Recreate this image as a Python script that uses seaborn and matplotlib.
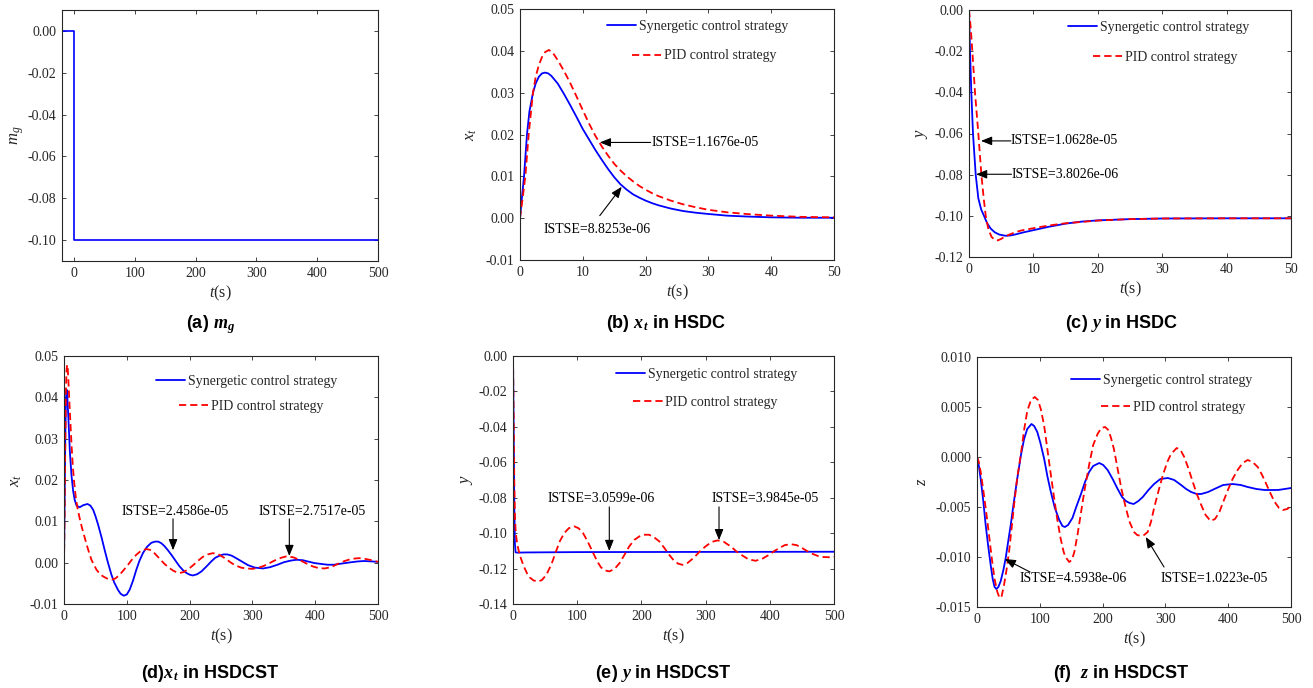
import matplotlib
matplotlib.use("Agg")
import matplotlib.pyplot as plt
import seaborn as sns
from matplotlib.legend import Legend
from matplotlib.ticker import FormatStrFormatter

# ---------------- data ----------------
LABEL_SYN = "Synergetic control strategy"
LABEL_PID = "PID control strategy"

# (a) disturbance m_g
a_t = [-20, 0, 0, 500]
a_mg = [0.0, 0.0, -0.10, -0.10]

# (b) x_t in HSDC
b_syn_t = [0, 0.3, 0.64, 1.11, 1.5, 2.07, 2.5, 3.0, 3.5, 4.0, 4.5, 5.0, 6, 7, 8, 9, 10, 11, 12, 13,
           14, 15, 16, 17, 18, 19, 20, 21, 22, 24, 26, 28, 30, 33, 36, 40, 45, 50]
b_syn_x = [0, 0.0048, 0.010, 0.020, 0.0255, 0.030, 0.0322, 0.0338, 0.0346, 0.0348, 0.0346, 0.0340,
           0.0322, 0.0297, 0.0270, 0.0242, 0.0213, 0.0188, 0.0163, 0.0140, 0.0118, 0.0098, 0.0081,
           0.0068, 0.0057, 0.0049, 0.0042, 0.0036, 0.0031, 0.0023, 0.0017, 0.0013, 0.0010, 0.0006,
           0.0004, 0.0002, 0.0001, 0.0001]
b_pid_t = [0, 0.4, 0.85, 1.38, 2.07, 2.5, 3.0, 3.5, 4.0, 4.6, 5.2, 6, 7, 8, 9, 10, 11, 12, 13, 14,
           15, 16, 17, 18, 19, 20, 21, 22, 24, 26, 28, 30, 33, 36, 40, 45, 50]
b_pid_x = [0, 0.0045, 0.010, 0.020, 0.030, 0.0338, 0.0366, 0.0385, 0.0397, 0.0402, 0.0396, 0.0378,
           0.0352, 0.0323, 0.0291, 0.0258, 0.0226, 0.0197, 0.0172, 0.0150, 0.0130, 0.0114, 0.0100,
           0.0088, 0.0077, 0.0068, 0.0060, 0.0053, 0.0042, 0.0033, 0.0026, 0.0020, 0.0014, 0.0010,
           0.0006, 0.0003, 0.0002]

# (c) y in HSDC
c_syn_t = [0, 0.08, 0.16, 0.36, 0.62, 1.04, 1.45, 1.9, 2.33, 2.8, 3.37, 4.0, 4.7, 5.7, 6.5, 7.25,
           8.5, 9.8, 12.4, 15, 17.5, 20, 25, 30, 40, 50]
c_syn_y = [0, -0.010, -0.020, -0.040, -0.060, -0.080, -0.0915, -0.097, -0.100, -0.1035, -0.1062,
           -0.1080, -0.1091, -0.1097, -0.1095, -0.1090, -0.1080, -0.1071, -0.1053, -0.1038, -0.1028,
           -0.1022, -0.1016, -0.1013, -0.1012, -0.1012]
c_pid_t = [0, 0.25, 0.52, 0.93, 1.45, 1.92, 2.3, 2.6, 3.0, 3.5, 4.0, 4.5, 5.0, 5.5, 6.2, 7, 8, 10,
           12.4, 15, 20, 25, 30, 40, 50]
c_pid_y = [0, -0.008, -0.020, -0.040, -0.060, -0.080, -0.092, -0.100, -0.1065, -0.1102, -0.1117,
           -0.1119, -0.1112, -0.1102, -0.1092, -0.1082, -0.1072, -0.1060, -0.1047, -0.1036, -0.1023,
           -0.1016, -0.1013, -0.1012, -0.1012]

# (d) x_t in HSDCST
d_syn_t = [0, 1, 2, 3, 4, 5, 7, 9.3, 12, 14.6, 17, 20, 25, 30.5, 37.4, 42, 46.4, 50, 54.3, 60, 65,
           70, 75.5, 80, 86, 90, 95, 100, 104.7, 110, 115, 120, 126, 132, 139, 145, 150, 155, 160,
           165, 171, 177, 184, 190, 195, 200, 205, 212, 219, 227, 234.5, 241, 248, 254, 260, 267,
           274, 283, 293, 304, 317, 328, 340, 350, 361, 370, 380, 388, 399, 409, 420, 430, 443,
           457, 468, 478, 490, 500]
d_syn_x = [0, 0.015, 0.030, 0.039, 0.0419, 0.041, 0.035, 0.027, 0.021, 0.0173, 0.0152, 0.0138,
           0.0134, 0.0139, 0.0142, 0.0138, 0.0128, 0.0113, 0.0092, 0.0060, 0.0029, 0.0, -0.0029,
           -0.0048, -0.0066, -0.0075, -0.0080, -0.0077, -0.0065, -0.0043, -0.0018, 0.0004, 0.0024,
           0.0038, 0.0048, 0.0051, 0.0051, 0.0047, 0.0040, 0.0031, 0.0019, 0.0006, -0.0009, -0.0019,
           -0.0025, -0.0029, -0.0031, -0.0028, -0.0021, -0.0009, 0.0003, 0.0012, 0.0017, 0.0020,
           0.0020, 0.0017, 0.0011, 0.0003, -0.0006, -0.0012, -0.0014, -0.0011, -0.0005, 0.0001,
           0.0005, 0.0007, 0.0006, 0.0003, -0.0001, -0.0003, -0.0005, -0.0005, -0.0002, 0.0001,
           0.0003, 0.0004, 0.0003, 0.0002]
d_pid_t = [0, 1, 2, 3, 4, 5, 6, 7.5, 9.3, 12, 14, 16, 19, 21.5, 25, 28, 32, 36, 40, 43.7, 48, 51.7,
           57, 62, 68, 72, 76.6, 82, 88.8, 95, 102, 108, 115, 122, 131, 137, 144, 152, 160, 167,
           173.5, 179, 184, 190, 197, 205, 213, 221, 229, 237, 245, 256, 264, 272, 282, 290, 300,
           310, 318, 325, 335, 346, 356, 367, 377, 386, 396, 405, 415, 425, 436, 445, 455, 463, 470,
           480, 490, 500]
d_pid_x = [0, 0.012, 0.028, 0.041, 0.0465, 0.0479, 0.0468, 0.0425, 0.0366, 0.0285, 0.0235, 0.0197,
           0.0155, 0.0132, 0.0107, 0.0088, 0.0066, 0.0044, 0.0024, 0.0007, -0.0006, -0.0017,
           -0.0027, -0.0033, -0.0038, -0.0040, -0.0041, -0.0038, -0.0029, -0.0018, -0.0005, 0.0007,
           0.0019, 0.0028, 0.0033, 0.0031, 0.0023, 0.0010, -0.0003, -0.0012, -0.0019, -0.0023,
           -0.0025, -0.0023, -0.0017, -0.0007, 0.0004, 0.0014, 0.0020, 0.0023, 0.0021, 0.0011,
           0.0002, -0.0006, -0.0012, -0.0014, -0.0015, -0.0012, -0.0008, -0.0003, 0.0005, 0.0012,
           0.0016, 0.0012, 0.0005, -0.0002, -0.0009, -0.0013, -0.0014, -0.0011, -0.0003, 0.0003,
           0.0008, 0.0010, 0.0011, 0.0009, 0.0006, 0.0002]

# (e) y in HSDCST
e_syn_t = [0, 1, 2, 3, 4, 6, 20, 100, 300, 500]
e_syn_y = [0, -0.040, -0.085, -0.106, -0.1108, -0.1110, -0.1109, -0.1107, -0.1106, -0.1105]
e_pid_t = [0, 1, 2, 3, 4, 5, 7, 10.4, 14, 18, 22, 26, 32, 39, 45, 52, 60, 67, 73, 80, 87, 95, 102,
           109, 116, 124, 131, 137, 143, 150, 158, 166, 174, 181, 189, 197, 204, 212, 220, 228, 236,
           243.5, 250, 257, 264, 272, 282, 291, 300.5, 310, 318.6, 328, 339, 348, 357.5, 367, 378,
           389, 399, 407, 414.5, 423, 432.6, 442, 450.8, 458, 466, 475, 484, 492, 500]
e_pid_y = [0, -0.035, -0.070, -0.090, -0.098, -0.102, -0.107, -0.1122, -0.1160, -0.1197, -0.1228,
           -0.1250, -0.1267, -0.1273, -0.1265, -0.1235, -0.1175, -0.1103, -0.1045, -0.0999, -0.0972,
           -0.0961, -0.0972, -0.0999, -0.1045, -0.1105, -0.1158, -0.1193, -0.1210, -0.1216, -0.1203,
           -0.1169, -0.1120, -0.1075, -0.1038, -0.1018, -0.1009, -0.1009, -0.1024, -0.1047, -0.1085,
           -0.1123, -0.1152, -0.1172, -0.1179, -0.1168, -0.1138, -0.1103, -0.1073, -0.1049, -0.1041,
           -0.1048, -0.1075, -0.1103, -0.1127, -0.1148, -0.1156, -0.1143, -0.1122, -0.1101, -0.1085,
           -0.1068, -0.1062, -0.1068, -0.1085, -0.1101, -0.1116, -0.1129, -0.1135, -0.1136, -0.1133]

# (f) z in HSDCST
f_syn_t = [0, 3, 5.9, 10, 13.8, 18, 21.8, 25, 28, 30.9, 34, 37.8, 42, 45.7, 50, 53.7, 58, 64, 70, 75,
           80, 86.7, 91, 96, 101, 107, 112, 117.6, 124, 131, 136, 140, 145, 152, 158, 165, 172,
           178.5, 185, 194.7, 201, 208, 216, 224, 231, 237, 243, 249.5, 257, 264, 273, 282, 292,
           304, 314, 325, 333, 341, 350, 357, 368, 378, 392, 407, 420, 431, 445, 458, 470, 479, 490,
           500]
f_syn_z = [0, -0.0009, -0.0022, -0.0044, -0.0068, -0.0090, -0.0108, -0.0122, -0.0130, -0.0132,
           -0.0130, -0.0124, -0.0113, -0.0101, -0.0083, -0.0068, -0.0048, -0.0022, 0.0002, 0.0018,
           0.0028, 0.0033, 0.0031, 0.0025, 0.0014, -0.0002, -0.0019, -0.0035, -0.0051, -0.0063,
           -0.0069, -0.0070, -0.0068, -0.0061, -0.0050, -0.0038, -0.0025, -0.0015, -0.0009, -0.0006,
           -0.0008, -0.0013, -0.0022, -0.0032, -0.0040, -0.0044, -0.0046, -0.0047, -0.0044, -0.0040,
           -0.0033, -0.0027, -0.0022, -0.0021, -0.0023, -0.0028, -0.0032, -0.0035, -0.0037, -0.0037,
           -0.0035, -0.0032, -0.0028, -0.0027, -0.0028, -0.0030, -0.0032, -0.0033, -0.0033, -0.0033,
           -0.0032, -0.0031]
f_pid_t = [0, 3, 5.9, 10, 13.8, 18, 21, 24.5, 28, 32.4, 36, 39, 43, 47, 51, 55, 59, 64, 69.7, 75, 80,
           86, 92, 97, 101.6, 107, 112, 117, 122.8, 128, 133, 138, 141, 146.8, 151, 155, 160, 165,
           171, 178.5, 185, 192, 198, 204, 209, 213, 218, 224, 230, 237, 243, 250, 255, 261, 266,
           271.8, 277, 282, 289, 296, 303, 309, 318, 324, 330, 337, 343.6, 350, 357, 364, 372, 379,
           386, 392, 399.5, 407, 415, 423, 431, 439, 447, 454, 460.6, 467, 474, 481, 487, 494, 500]
f_pid_z = [0, -0.0005, -0.0015, -0.0033, -0.0051, -0.0072, -0.0088, -0.0106, -0.0122, -0.0135,
           -0.0141, -0.0140, -0.0128, -0.0113, -0.0095, -0.0072, -0.0048, -0.0021, 0.0002, 0.0027,
           0.0046, 0.0057, 0.0060, 0.0057, 0.0048, 0.0031, 0.0008, -0.0015, -0.0041, -0.0063,
           -0.0081, -0.0095, -0.0100, -0.0105, -0.0103, -0.0095, -0.0078, -0.0058, -0.0034, -0.0008,
           0.0012, 0.0023, 0.0029, 0.0030, 0.0027, 0.0020, 0.0008, -0.0012, -0.0032, -0.0051,
           -0.0065, -0.0075, -0.0078, -0.0079, -0.0078, -0.0075, -0.0065, -0.0051, -0.0034, -0.0018,
           -0.0005, 0.0003, 0.0009, 0.0007, 0.0, -0.0012, -0.0025, -0.0037, -0.0048, -0.0058,
           -0.0064, -0.0062, -0.0055, -0.0045, -0.0033, -0.0022, -0.0013, -0.0006, -0.0003, -0.0005,
           -0.0010, -0.0018, -0.0027, -0.0036, -0.0045, -0.0051, -0.0053, -0.0052, -0.0049]

# ---------------- style ----------------
sns.set_theme(style="ticks")
plt.rcParams.update({
    "font.family": ["Liberation Serif", "DejaVu Serif"],
    "mathtext.fontset": "custom",
    "mathtext.rm": "Liberation Serif",
    "mathtext.it": "Liberation Serif:italic",
    "mathtext.bf": "Liberation Serif:bold:italic",
    "axes.unicode_minus": False,
    "xtick.direction": "in",
    "ytick.direction": "in",
    "xtick.top": True,
    "ytick.right": True,
    "xtick.major.size": 3,
    "ytick.major.size": 3,
    "xtick.major.width": 0.6,
    "ytick.major.width": 0.6,
    "xtick.major.pad": 4,
    "ytick.major.pad": 4,
    "axes.linewidth": 0.8,
    "axes.edgecolor": "#262626",
    "xtick.color": "#262626",
    "ytick.color": "#262626",
    "xtick.labelsize": 10,
    "ytick.labelsize": 10,
})

BLUE = "#0000ff"
RED = "#ff0000"
LW = 1.3

fig = plt.figure(figsize=(13.13, 6.88), dpi=100)
W, H = 1313.0, 688.0


def add_axes(px_left, px_top, px_right, px_bottom):
    return fig.add_axes([px_left / W, 1 - px_bottom / H, (px_right - px_left) / W,
                         (px_bottom - px_top) / H])


def style_axis(ax, xlim, xticks, ylim, yticks, fmt, ylabel, ylab_x):
    ax.set_xlim(*xlim)
    ax.set_ylim(*ylim)
    ax.set_xticks(xticks)
    ax.set_yticks(yticks)
    ax.yaxis.set_major_formatter(FormatStrFormatter(fmt))
    ax.set_xlabel(r"$t$(s)", fontsize=11.5, color="#262626", labelpad=3)
    ax.set_ylabel(ylabel, fontsize=12, color="#262626")
    ax.yaxis.set_label_coords(ylab_x, 0.5)
    for s in ax.spines.values():
        s.set_visible(True)
        s.set_color("#262626")
    ax.grid(False)


def draw_pair(ax, ts, vs, tp, vp):
    sns.lineplot(x=ts, y=vs, ax=ax, color=BLUE, lw=LW, estimator=None, sort=False)
    h1 = ax.lines[-1]
    sns.lineplot(x=tp, y=vp, ax=ax, color=RED, lw=LW, estimator=None, sort=False)
    h2 = ax.lines[-1]
    h2.set_dashes((4, 2.2))
    return h1, h2


def add_legends(ax, h1, h2, p1, p2):
    for h, lab, p in ((h1, LABEL_SYN, p1), (h2, LABEL_PID, p2)):
        leg = Legend(ax, [h], [lab], loc="center left", bbox_to_anchor=p, frameon=False,
                     borderpad=0, borderaxespad=0, handlelength=2.1, handletextpad=0.2,
                     fontsize=10)
        ax.add_artist(leg)


def arrow(ax, tail, tip):
    ax.annotate("", xy=tip, xytext=tail,
                arrowprops=dict(arrowstyle="-|>,head_length=0.55,head_width=0.22",
                                color="black", lw=0.8, shrinkA=0, shrinkB=0,
                                mutation_scale=12))


def note(ax, x, y, s, ha="center"):
    ax.text(x, y, s, ha=ha, va="center", fontsize=10, color="black")


# (a)
ax = add_axes(62, 10, 378, 261)
sns.lineplot(x=a_t, y=a_mg, ax=ax, color=BLUE, lw=1.2, estimator=None, sort=False)
style_axis(ax, (-20, 500), [0, 100, 200, 300, 400, 500], (-0.11, 0.01),
           [0.0, -0.02, -0.04, -0.06, -0.08, -0.10], "%.2f", r"$m_g$", -0.114)

# (b)
ax = add_axes(520, 9, 834, 260)
h1, h2 = draw_pair(ax, b_syn_t, b_syn_x, b_pid_t, b_pid_x)
style_axis(ax, (0, 50), [0, 10, 20, 30, 40, 50], (-0.01, 0.05),
           [-0.01, 0.0, 0.01, 0.02, 0.03, 0.04, 0.05], "%.2f", r"$x_t$", -0.131)
add_legends(ax, h1, h2, (0.277, 0.932), (0.357, 0.813))
note(ax, 21.0, 0.0181, "ISTSE=1.1676e-05", ha="left")
arrow(ax, (20.8, 0.0181), (12.7, 0.0181))
note(ax, 12.26, -0.0026, "ISTSE=8.8253e-06")
arrow(ax, (12.7, 0.0006), (16.2, 0.0075))

# (c)
ax = add_axes(969, 10, 1291, 257)
h1, h2 = draw_pair(ax, c_syn_t, c_syn_y, c_pid_t, c_pid_y)
style_axis(ax, (0, 50), [0, 10, 20, 30, 40, 50], (-0.12, 0.0),
           [-0.12, -0.10, -0.08, -0.06, -0.04, -0.02, 0.0], "%.2f", r"$y$", -0.121)
add_legends(ax, h1, h2, (0.3065, 0.928), (0.384, 0.807))
note(ax, 6.52, -0.0636, "ISTSE=1.0628e-05", ha="left")
arrow(ax, (6.5, -0.0636), (1.86, -0.0636))
note(ax, 6.68, -0.0798, "ISTSE=3.8026e-06", ha="left")
arrow(ax, (6.6, -0.0798), (1.09, -0.0798))

# (d)
ax = add_axes(64, 356, 378, 604)
h1, h2 = draw_pair(ax, d_syn_t, d_syn_x, d_pid_t, d_pid_x)
style_axis(ax, (0, 500), [0, 100, 200, 300, 400, 500], (-0.01, 0.05),
           [-0.01, 0.0, 0.01, 0.02, 0.03, 0.04, 0.05], "%.2f", r"$x_t$", -0.127)
add_legends(ax, h1, h2, (0.294, 0.898), (0.365, 0.798))
note(ax, 176.8, 0.0123, "ISTSE=2.4586e-05")
arrow(ax, (173.6, 0.0106), (173.6, 0.0030))
note(ax, 394.9, 0.0123, "ISTSE=2.7517e-05")
arrow(ax, (358.8, 0.0106), (358.8, 0.0016))

# (e)
ax = add_axes(513, 356, 834, 604)
h1, h2 = draw_pair(ax, e_syn_t, e_syn_y, e_pid_t, e_pid_y)
style_axis(ax, (0, 500), [0, 100, 200, 300, 400, 500], (-0.14, 0.0),
           [-0.14, -0.12, -0.10, -0.08, -0.06, -0.04, -0.02, 0.0], "%.2f", r"$y$", -0.118)
add_legends(ax, h1, h2, (0.321, 0.925), (0.375, 0.812))
note(ax, 137, -0.0806, "ISTSE=3.0599e-06")
arrow(ax, (150, -0.0852), (150, -0.1101))
note(ax, 393.3, -0.0806, "ISTSE=3.9845e-05")
arrow(ax, (320.9, -0.0852), (320.9, -0.1040))

# (f)
ax = add_axes(977, 357, 1291, 607)
h1, h2 = draw_pair(ax, f_syn_t, f_syn_z, f_pid_t, f_pid_z)
style_axis(ax, (0, 500), [0, 100, 200, 300, 400, 500], (-0.015, 0.010),
           [-0.015, -0.010, -0.005, 0.0, 0.005, 0.010], "%.3f", r"$z$", -0.150)
add_legends(ax, h1, h2, (0.300, 0.907), (0.394, 0.800))
note(ax, 153.7, -0.0122, "ISTSE=4.5938e-06")
arrow(ax, (84.4, -0.0115), (44.1, -0.0102))
note(ax, 377, -0.0122, "ISTSE=1.0223e-05")
arrow(ax, (297.8, -0.0110), (268.6, -0.0080))

# captions
captions = [
    (211, 325, r"(a) $\mathbf{m}_{\mathbf{g}}$"),
    (666, 323, r"(b) $\mathbf{x}_{\mathbf{t}}$ in HSDC"),
    (1122, 323, r"(c) $\mathbf{y}$ in HSDC"),
    (210, 673, r"(d)$\mathbf{x}_{\mathbf{t}}$ in HSDCST"),
    (663, 673, r"(e) $\mathbf{y}$ in HSDCST"),
    (1121, 673, r"(f)  $\mathbf{z}$ in HSDCST"),
]
for cx, cy, txt in captions:
    fig.text(cx / W, 1 - cy / H, txt, ha="center", va="center", fontsize=13,
             fontweight="bold", family=["Liberation Sans", "DejaVu Sans"], color="black")

fig.savefig("out.png", dpi=100)
